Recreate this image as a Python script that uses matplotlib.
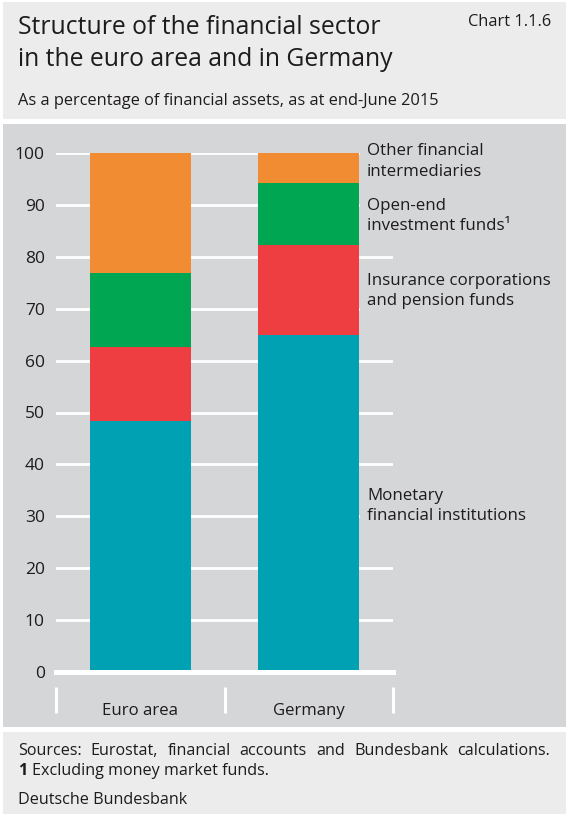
import matplotlib
matplotlib.use("Agg")
import matplotlib.pyplot as plt
from matplotlib.patches import Rectangle

plt.rcParams['font.family'] = ['Open Sans', 'DejaVu Sans']

# ---- data (percent of financial assets, end-June 2015) ----
regions = ["Euro area", "Germany"]
sectors = ["Monetary\nfinancial institutions",
           "Insurance corporations\nand pension funds",
           "Open-end\ninvestment funds\u00b9",
           "Other financial\nintermediaries"]
mfi = [48.4, 65.0]
icpf = [14.2, 17.3]
investment_funds = [14.4, 12.0]
other_fi = [23.0, 5.7]
yticks = [0, 10, 20, 30, 40, 50, 60, 70, 80, 90, 100]

colors = ["#00a1b2", "#ef3e42", "#00a651", "#f28c33"]
TEXT = "#1e1b1c"
HEAD_BG = "#ececed"
PLOT_BG = "#d5d6d8"

W, H = 568, 816
fig = plt.figure(figsize=(W / 100, H / 100), dpi=100)
fig.patch.set_facecolor("white")


def fx(px):
    return px / W


def fy(py):
    return 1 - py / H


def panel(x0, y0, x1, y1, color):
    fig.add_artist(Rectangle((fx(x0), fy(y1)), fx(x1) - fx(x0), fy(y0) - fy(y1),
                             transform=fig.transFigure, facecolor=color,
                             edgecolor="none", zorder=0))


panel(3, 2, 566, 119, HEAD_BG)
panel(3, 124, 566, 727, PLOT_BG)
panel(3, 732, 566, 814, HEAD_BG)

# ---- header ----
fig.text(fx(18), fy(28), "Structure of the financial sector", fontsize=17.8,
         color=TEXT, va="center", ha="left")
fig.text(fx(18), fy(59), "in the euro area and in Germany", fontsize=17.8,
         color=TEXT, va="center", ha="left")
fig.text(fx(551), fy(22), "Chart 1.1.6", fontsize=11.8, color=TEXT,
         va="center", ha="right")
fig.text(fx(18), fy(101), "As a percentage of financial assets, as at end-June 2015",
         fontsize=11.8, color=TEXT, va="center", ha="left")

# ---- plot area ----
ax_l, ax_r, ax_t, ax_b = 56, 393, 153.3, 671.7
ax = fig.add_axes([fx(ax_l), fy(ax_b), fx(ax_r) - fx(ax_l), fy(ax_t) - fy(ax_b)])
ax.set_facecolor("none")
for s in ax.spines.values():
    s.set_visible(False)
ax.set_xlim(-0.5, 1.5)
ax.set_ylim(0, 100)

for t in yticks[1:]:
    ax.axhline(t, color="white", lw=2.0, zorder=1)
ax.axhline(0, color="white", lw=3.6, zorder=4, clip_on=False)

x = list(range(len(regions)))
bottom = [0.0] * len(regions)
for vals, c in zip([mfi, icpf, investment_funds, other_fi], colors):
    ax.bar(x, vals, width=0.6, bottom=bottom, color=c, edgecolor="none", zorder=2)
    bottom = [b + v for b, v in zip(bottom, vals)]

ax.set_yticks(yticks)
ax.set_yticklabels([str(t) for t in yticks])
ax.tick_params(axis="y", length=0, pad=8, labelsize=12.5, labelcolor=TEXT)
ax.set_xticks([])

# category separators and labels below the zero line
for sx in [-0.5, 0.5, 1.5]:
    ax.plot([sx, sx], [-2.9, -8.0], color="white", lw=2.2, clip_on=False,
            solid_capstyle="butt", zorder=3)
for xi, name in zip(x, regions):
    ax.text(xi, -7.6, name, ha="center", va="center", fontsize=12.1,
            color=TEXT, clip_on=False)

# sector labels to the right of the Germany bar
label_y = [31.9, 73.4, 87.9, 98.4]
for name, yv in zip(sectors, label_y):
    ax.text(1.345, yv, name, ha="left", va="center", fontsize=12.2, color=TEXT,
            linespacing=1.35, zorder=5, clip_on=False,
            bbox=dict(boxstyle="square,pad=0.4", facecolor=PLOT_BG,
                      edgecolor="none"))

# ---- footer ----
renderer = fig.canvas.get_renderer()
words = "Sources: Eurostat, financial accounts and Bundesbank calculations.".split()
arts = [fig.text(0, fy(751), w, fontsize=11.6, color=TEXT, va="center", ha="left")
        for w in words]
widths = [a.get_window_extent(renderer).width for a in arts]
x0, x1 = 18, 550
gap = (x1 - x0 - sum(widths)) / (len(words) - 1)
pos = x0
for a, w in zip(arts, widths):
    a.set_x(fx(pos))
    pos += w + gap

one = fig.text(fx(18), fy(771), "1", fontsize=11.6, color=TEXT,
               fontweight="bold", va="center", ha="left")
w1 = one.get_window_extent(renderer).width
fig.text(fx(18 + w1 + 5), fy(771), "Excluding money market funds.", fontsize=11.6,
         color=TEXT, va="center", ha="left")
fig.text(fx(18), fy(800), "Deutsche Bundesbank", fontsize=11.6, color=TEXT,
         va="center", ha="left")

fig.savefig("out.png", dpi=100)
